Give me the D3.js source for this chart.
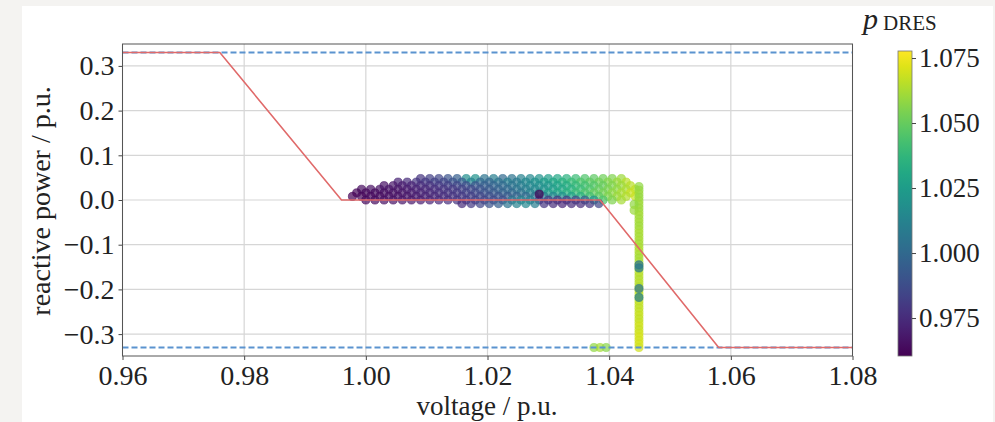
<!DOCTYPE html>
<html lang="en">
<head>
<meta charset="UTF-8">
<title>Q(V) scatter</title>
<script src="https://d3js.org/d3.v7.min.js"></script>
<style>
    body { margin: 0; padding: 0; background: #f4f3f1; }
    svg { display: block; }
    text { font-family: "Liberation Serif", "DejaVu Serif", serif; fill: #222; }
</style>
</head>
<body>
<svg id="chart" width="995" height="422"></svg>
<script>
// axis ticks
const xTicks = [0.96, 0.98, 1.00, 1.02, 1.04, 1.06, 1.08];
const yTicks = [-0.3, -0.2, -0.1, 0.0, 0.1, 0.2, 0.3];
const cbTicks = [0.975, 1.000, 1.025, 1.050, 1.075];

// Q(V) characteristic (red) and reactive power limits (blue dashed)
const curveV = [0.96, 0.976, 0.996, 1.0385, 1.058, 1.08];
const curveQ = [0.33, 0.33, 0.0, 0.0, -0.33, -0.33];
const qLimits = [0.33, -0.33];

// scatter cloud, one row per reactive power level
const cloudQ = [0.048, 0.040, 0.032, 0.024, 0.016, 0.008, 0.000, -0.008];
const cloudV = [
    [1.0090, 1.0105, 1.0120, 1.0135, 1.0150, 1.0165, 1.0180, 1.0195, 1.0210, 1.0225, 1.0240, 1.0255, 1.0270, 1.0285, 1.0300, 1.0315, 1.0330, 1.0345, 1.0360, 1.0375, 1.0390, 1.0405, 1.0420],
    [1.0053, 1.0068, 1.0083, 1.0098, 1.0113, 1.0128, 1.0143, 1.0158, 1.0173, 1.0188, 1.0203, 1.0218, 1.0233, 1.0248, 1.0263, 1.0278, 1.0293, 1.0308, 1.0323, 1.0338, 1.0353, 1.0368, 1.0383, 1.0398, 1.0413, 1.0428],
    [1.0030, 1.0045, 1.0060, 1.0075, 1.0090, 1.0105, 1.0120, 1.0135, 1.0150, 1.0165, 1.0180, 1.0195, 1.0210, 1.0225, 1.0240, 1.0255, 1.0270, 1.0285, 1.0300, 1.0315, 1.0330, 1.0345, 1.0360, 1.0375, 1.0390, 1.0405, 1.0420, 1.0435],
    [0.9993, 1.0008, 1.0023, 1.0038, 1.0053, 1.0068, 1.0083, 1.0098, 1.0113, 1.0128, 1.0143, 1.0158, 1.0173, 1.0188, 1.0203, 1.0218, 1.0233, 1.0248, 1.0263, 1.0278, 1.0293, 1.0308, 1.0323, 1.0338, 1.0353, 1.0368, 1.0383, 1.0398, 1.0413, 1.0428, 1.0443],
    [0.9985, 1.0000, 1.0015, 1.0030, 1.0045, 1.0060, 1.0075, 1.0090, 1.0105, 1.0120, 1.0135, 1.0150, 1.0165, 1.0180, 1.0195, 1.0210, 1.0225, 1.0240, 1.0255, 1.0270, 1.0285, 1.0300, 1.0315, 1.0330, 1.0345, 1.0360, 1.0375, 1.0390, 1.0405, 1.0420, 1.0435],
    [0.9978, 0.9993, 1.0008, 1.0023, 1.0038, 1.0053, 1.0068, 1.0083, 1.0098, 1.0113, 1.0128, 1.0143, 1.0158, 1.0173, 1.0188, 1.0203, 1.0218, 1.0233, 1.0248, 1.0263, 1.0278, 1.0293, 1.0308, 1.0323, 1.0338, 1.0353, 1.0368, 1.0383, 1.0398, 1.0413, 1.0428, 1.0443],
    [1.0000, 1.0015, 1.0030, 1.0045, 1.0060, 1.0075, 1.0090, 1.0105, 1.0120, 1.0135, 1.0150, 1.0165, 1.0180, 1.0195, 1.0210, 1.0225, 1.0240, 1.0255, 1.0270, 1.0285, 1.0300, 1.0315, 1.0330, 1.0345, 1.0360, 1.0375, 1.0390, 1.0405, 1.0420],
    [1.0158, 1.0173, 1.0188, 1.0203, 1.0218, 1.0233, 1.0248, 1.0263, 1.0278, 1.0293, 1.0308, 1.0323, 1.0338, 1.0353, 1.0368, 1.0383]
];
const cloudP = [
    [0.978, 0.982, 0.985, 0.990, 0.995, 1.018, 1.020, 1.005, 1.010, 1.000, 1.005, 1.012, 1.015, 1.020, 1.025, 1.030, 1.035, 1.040, 1.045, 1.048, 1.052, 1.055, 1.060],
    [0.972, 0.975, 0.978, 0.980, 0.983, 0.985, 0.990, 0.995, 1.012, 1.000, 0.998, 1.005, 1.010, 1.008, 1.015, 1.020, 1.025, 1.030, 1.035, 1.040, 1.045, 1.048, 1.052, 1.056, 1.060, 1.065],
    [0.966, 0.968, 0.970, 0.972, 0.975, 0.977, 0.980, 0.982, 0.985, 0.988, 0.992, 0.995, 0.998, 1.000, 1.005, 1.010, 1.015, 1.018, 1.022, 1.028, 1.032, 1.038, 1.042, 1.046, 1.050, 1.055, 1.060, 1.065],
    [0.964, 0.965, 0.966, 0.967, 0.968, 0.970, 0.972, 0.974, 0.976, 0.978, 0.980, 0.983, 0.986, 0.990, 0.993, 0.997, 1.000, 1.005, 1.010, 1.015, 1.020, 1.025, 1.030, 1.035, 1.040, 1.045, 1.050, 1.054, 1.058, 1.063, 1.067],
    [0.962, 0.963, 0.964, 0.965, 0.966, 0.968, 0.970, 0.972, 0.974, 0.976, 0.978, 0.980, 0.983, 0.986, 0.990, 0.993, 0.997, 1.000, 1.005, 1.012, 1.018, 1.025, 1.030, 1.035, 1.040, 1.045, 1.050, 1.053, 1.058, 1.063, 1.068],
    [0.961, 0.962, 0.963, 0.964, 0.965, 0.966, 0.968, 0.970, 0.972, 0.974, 0.976, 0.978, 0.980, 0.982, 0.985, 0.988, 0.990, 0.993, 0.997, 1.000, 1.005, 1.010, 1.015, 1.020, 1.028, 1.035, 1.042, 1.048, 1.055, 1.060, 1.064, 1.068],
    [0.963, 0.964, 0.965, 0.966, 0.967, 0.968, 0.970, 0.972, 0.974, 0.976, 0.978, 0.980, 0.982, 0.984, 0.986, 0.988, 1.005, 1.012, 1.010, 0.985, 0.980, 0.978, 0.980, 0.985, 0.995, 1.020, 1.045, 1.055, 1.062],
    [0.975, 0.980, 0.985, 0.990, 0.995, 1.005, 1.012, 1.015, 1.010, 0.978, 0.975, 0.973, 0.975, 0.975, 0.978, 0.985]
];

// vertical stripe at the upper voltage limit
const stripeV = 1.0449;
const stripeQ = [0.030, 0.022, 0.014, 0.006, -0.002, -0.010, -0.018, -0.026, -0.034, -0.042, -0.050, -0.058, -0.066, -0.074, -0.082, -0.090, -0.098, -0.106, -0.114, -0.122, -0.130, -0.138, -0.146, -0.154, -0.162, -0.170, -0.178, -0.186, -0.194, -0.202, -0.210, -0.218, -0.226, -0.234, -0.242, -0.250, -0.258, -0.266, -0.274, -0.282, -0.290, -0.298, -0.306, -0.314, -0.322, -0.330];
const stripeP = [1.058, 1.059, 1.060, 1.059, 1.060, 1.061, 1.060, 1.061, 1.062, 1.061, 1.062, 1.061, 1.062, 1.063, 1.062, 1.063, 1.062, 1.063, 1.064, 1.063, 1.062, 1.063, 1.064, 1.063, 1.064, 1.065, 1.064, 1.065, 1.064, 1.065, 1.066, 1.065, 1.066, 1.067, 1.066, 1.067, 1.068, 1.067, 1.068, 1.069, 1.068, 1.069, 1.070, 1.069, 1.070, 1.069];

// single points drawn last
const extraV = [1.0441, 1.0441, 1.0375, 1.0385, 1.0395, 1.0449, 1.0449, 1.0449, 1.0449, 1.0285];
const extraQ = [-0.010, -0.023, -0.330, -0.330, -0.330, -0.145, -0.152, -0.198, -0.218, 0.013];
const extraP = [1.058, 1.060, 1.058, 1.062, 1.057, 1.005, 1.008, 1.006, 1.010, 0.962];

const svg = d3.select("#chart");

// white figure panel on the grey page
svg.append("rect").attr("x", 22).attr("y", 6).attr("width", 971).attr("height", 416).attr("fill", "#ffffff");

const x = d3.scaleLinear().domain([0.96, 1.08]).range([122.5, 852.5]);
const y = d3.scaleLinear().domain([-0.349, 0.349]).range([356, 44]);
const color = d3.scaleSequential(d3.interpolateViridis).domain([0.9604, 1.0777]);

const plot = svg.append("g");
plot.append("defs").append("clipPath").attr("id", "clip")
    .append("rect").attr("x", 122.5).attr("y", 44).attr("width", 730).attr("height", 312);

// grid
plot.selectAll(".gx").data(xTicks).enter().append("line")
    .attr("x1", d => x(d)).attr("x2", d => x(d)).attr("y1", 44).attr("y2", 356)
    .attr("stroke", "#d6d6d6").attr("stroke-width", 1.2);
plot.selectAll(".gy").data(yTicks).enter().append("line")
    .attr("x1", 122.5).attr("x2", 852.5).attr("y1", d => y(d)).attr("y2", d => y(d))
    .attr("stroke", "#d6d6d6").attr("stroke-width", 1.2);

// scatter points
const pts = [];
cloudQ.forEach((q, i) => cloudV[i].forEach((v, j) => pts.push([v, q, cloudP[i][j]])));
stripeQ.forEach((q, i) => pts.push([stripeV, q, stripeP[i]]));
extraV.forEach((v, i) => pts.push([v, extraQ[i], extraP[i]]));

plot.append("g").attr("clip-path", "url(#clip)")
    .selectAll("circle").data(pts).enter().append("circle")
    .attr("cx", d => x(d[0]))
    .attr("cy", d => y(d[1]))
    .attr("r", 4.1)
    .attr("fill", d => color(d[2]))
    .attr("fill-opacity", 0.7)
    .attr("stroke", d => color(d[2]))
    .attr("stroke-opacity", 0.7)
    .attr("stroke-width", 0.8);

// limits
plot.selectAll(".lim").data(qLimits).enter().append("line")
    .attr("x1", 122.5).attr("x2", 852.5).attr("y1", d => y(d)).attr("y2", d => y(d))
    .attr("stroke", "#5b93cf").attr("stroke-width", 1.8).attr("stroke-dasharray", "6,3");

// characteristic
const line = d3.line().x(d => x(d[0])).y(d => y(d[1]));
plot.append("path").datum(curveV.map((v, i) => [v, curveQ[i]]))
    .attr("d", line).attr("fill", "none")
    .attr("stroke", "#e06a6a").attr("stroke-width", 1.6);

// axes
const xAxis = svg.append("g").attr("transform", "translate(0,356)")
    .call(d3.axisBottom(x).tickValues(xTicks).tickSize(4).tickPadding(6).tickFormat(d3.format(".2f")));
const yAxis = svg.append("g").attr("transform", "translate(122.5,0)")
    .call(d3.axisLeft(y).tickValues(yTicks).tickSize(4).tickPadding(4)
        .tickFormat(d => d3.format(".1f")(d).replace("-", "\u2212")));
[xAxis, yAxis].forEach(a => {
    a.select(".domain").remove();
    a.selectAll("line").attr("stroke", "#444");
    a.selectAll("text").attr("font-size", 28).attr("font-family", "Liberation Serif, serif").attr("fill", "#222");
});
xAxis.selectAll("text").attr("dy", "0.68em");

// frame
svg.append("rect").attr("x", 122.5).attr("y", 44).attr("width", 730).attr("height", 312)
    .attr("fill", "none").attr("stroke", "#555").attr("stroke-width", 1);

// axis labels
svg.append("text").attr("x", 487).attr("y", 415).attr("text-anchor", "middle")
    .attr("font-size", 27).text("voltage / p.u.");
svg.append("text").attr("transform", "translate(50,201) rotate(-90)").attr("text-anchor", "middle")
    .attr("font-size", 28).text("reactive power / p.u.");

// colorbar
const cb = { x: 898, y: 51, w: 14, h: 305 };
const grad = svg.append("defs").append("linearGradient").attr("id", "cbgrad")
    .attr("x1", 0).attr("y1", 1).attr("x2", 0).attr("y2", 0);
d3.range(0, 1.0001, 0.05).forEach(t => {
    grad.append("stop").attr("offset", t).attr("stop-color", d3.interpolateViridis(t));
});
svg.append("rect").attr("x", cb.x).attr("y", cb.y).attr("width", cb.w).attr("height", cb.h)
    .attr("fill", "url(#cbgrad)").attr("stroke", "#777").attr("stroke-width", 0.8);
const cbScale = d3.scaleLinear().domain(color.domain()).range([cb.y + cb.h, cb.y]);
const cbAxis = svg.append("g").attr("transform", `translate(${cb.x + cb.w},0)`)
    .call(d3.axisRight(cbScale).tickValues(cbTicks).tickSize(4).tickPadding(3).tickFormat(d3.format(".3f")));
cbAxis.select(".domain").remove();
cbAxis.selectAll("line").attr("stroke", "#444");
cbAxis.selectAll("text").attr("font-size", 27).attr("font-family", "Liberation Serif, serif").attr("fill", "#222");

// colorbar title
const title = svg.append("text").attr("x", 863).attr("y", 29);
title.append("tspan").attr("font-size", 30).attr("font-style", "italic").text("p");
title.append("tspan").attr("font-size", 21).attr("dx", 5).attr("dy", 1).text("DRES");
</script>
</body>
</html>
